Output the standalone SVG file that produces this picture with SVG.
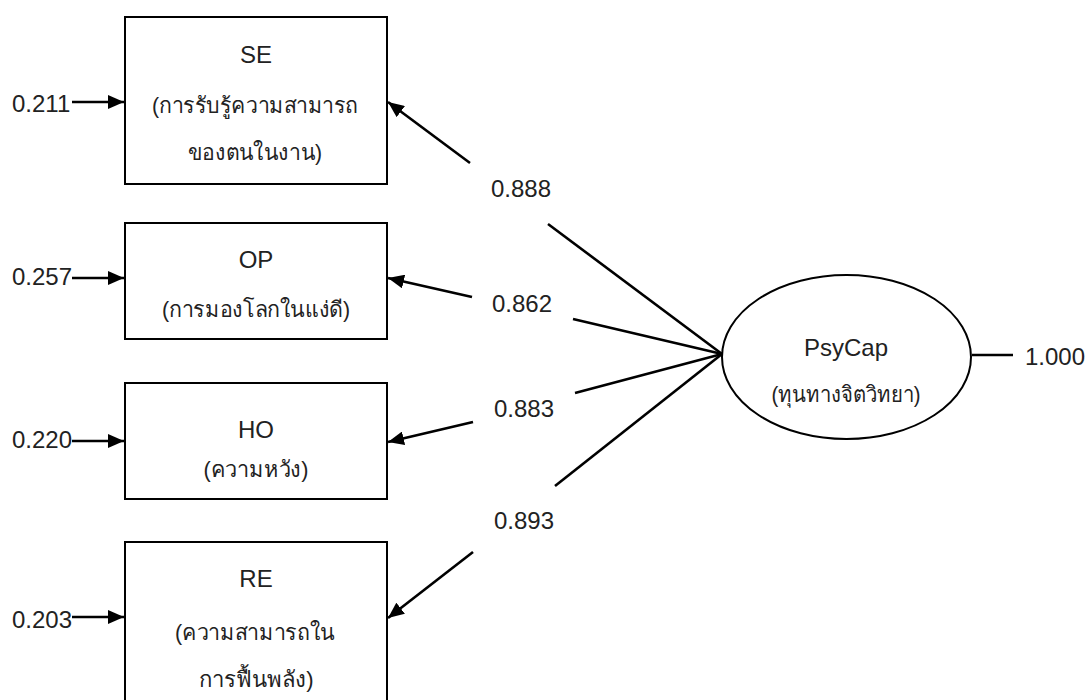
<svg xmlns="http://www.w3.org/2000/svg" width="1086" height="700" viewBox="0 0 1086 700">
  <style>
    .box { fill: #ffffff; stroke: #000000; stroke-width: 2; }
    .ell { fill: #ffffff; stroke: #000000; stroke-width: 2; }
    .t { font-family: "Liberation Sans", Arial, "Noto Sans", sans-serif; font-size: 24px; fill: #222222; text-anchor: middle; }
    .th { font-family: "Liberation Sans", "Noto Sans", "DejaVu Sans", sans-serif; font-size: 22px; fill: #222222; text-anchor: middle; }
    .num { font-family: "Liberation Sans", Arial, sans-serif; font-size: 24px; fill: #222222; }
    .arr { fill: none; stroke: #000000; stroke-width: 2.6; marker-end: url(#head); }
    .ln { fill: none; stroke: #000000; stroke-width: 2.6; }
  </style>
  <defs>
    <marker id="head" markerUnits="userSpaceOnUse" markerWidth="18" markerHeight="14" refX="16" refY="7" orient="auto">
      <path d="M0,0 L16,7 L0,14 Z" fill="#000000"/>
    </marker>
  </defs>
  <rect width="1086" height="700" fill="#ffffff"/>

  <!-- error terms and loadings -->
  <g id="connectors">
    <line class="arr" x1="72" y1="102" x2="124" y2="102"/>
    <line class="arr" x1="72" y1="278" x2="124" y2="278"/>
    <line class="arr" x1="72" y1="441" x2="124" y2="441"/>
    <line class="arr" x1="72" y1="617" x2="124" y2="617"/>

    <line class="ln" x1="722" y1="354" x2="548" y2="224"/>
    <line class="arr" x1="470" y1="163" x2="388" y2="102"/>

    <line class="ln" x1="722" y1="354" x2="573" y2="319"/>
    <line class="arr" x1="472" y1="297" x2="388" y2="278"/>

    <line class="ln" x1="722" y1="354" x2="575" y2="393"/>
    <line class="arr" x1="473" y1="422" x2="388" y2="442"/>

    <line class="ln" x1="722" y1="354" x2="555" y2="486"/>
    <line class="arr" x1="473" y1="552" x2="388" y2="618"/>

    <line class="ln" x1="972" y1="355" x2="1013" y2="355"/>
  </g>

  <g id="labels">
    <text class="num" x="12" y="112">0.211</text>
    <text class="num" x="12" y="285">0.257</text>
    <text class="num" x="12" y="448">0.220</text>
    <text class="num" x="12" y="628">0.203</text>
    <text class="t" x="521" y="197">0.888</text>
    <text class="t" x="522" y="312">0.862</text>
    <text class="t" x="524" y="417">0.883</text>
    <text class="t" x="524" y="529">0.893</text>
    <text class="num" x="1025" y="365">1.000</text>
  </g>

  <g id="SE">
    <rect class="box" x="125" y="17" width="262" height="167"/>
    <text class="t" x="256" y="63">SE</text>
    <text class="th" x="255" y="113" textLength="206" lengthAdjust="spacingAndGlyphs">(การรับรู้ความสามารถ</text>
    <text class="th" x="255" y="160" textLength="134" lengthAdjust="spacingAndGlyphs">ของตนในงาน)</text>
  </g>

  <g id="OP">
    <rect class="box" x="125" y="223" width="262" height="116"/>
    <text class="t" x="256" y="268">OP</text>
    <text class="th" x="256" y="317" textLength="188" lengthAdjust="spacingAndGlyphs">(การมองโลกในแง่ดี)</text>
  </g>

  <g id="HO">
    <rect class="box" x="125" y="383" width="262" height="116"/>
    <text class="t" x="256" y="438">HO</text>
    <text class="th" x="256" y="477" textLength="105" lengthAdjust="spacingAndGlyphs">(ความหวัง)</text>
  </g>

  <g id="RE">
    <rect class="box" x="125" y="542" width="262" height="170"/>
    <text class="t" x="256" y="587">RE</text>
    <text class="th" x="255" y="640" textLength="160" lengthAdjust="spacingAndGlyphs">(ความสามารถใน</text>
    <text class="th" x="256" y="687" textLength="115" lengthAdjust="spacingAndGlyphs">การฟื้นพลัง)</text>
  </g>

  <g id="PsyCap">
    <ellipse class="ell" cx="846.5" cy="357" rx="124.5" ry="82"/>
    <text class="t" x="846" y="356">PsyCap</text>
    <text class="th" x="846" y="402" textLength="149" lengthAdjust="spacingAndGlyphs">(ทุนทางจิตวิทยา)</text>
  </g>
</svg>
